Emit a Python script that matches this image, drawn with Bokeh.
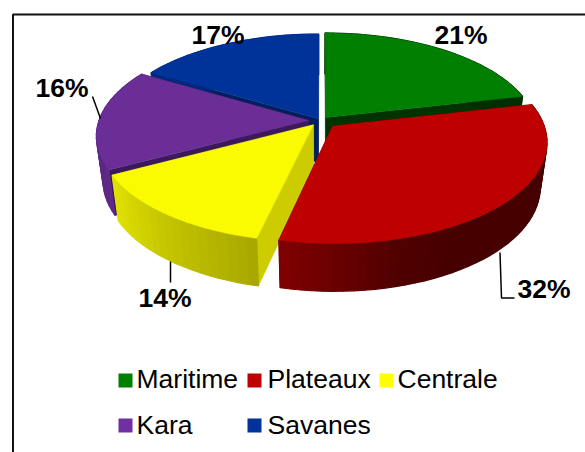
import numpy as np
from bokeh.plotting import figure
from bokeh.models import ColumnDataSource, Range1d
from bokeh.core.properties import value
from bokeh.embed import file_html
from bokeh.resources import INLINE

categories = ["Maritime", "Plateaux", "Centrale", "Kara", "Savanes"]
values = [21.4, 32.2, 13.6, 16.3, 16.5]
labels = ["21%", "32%", "14%", "16%", "17%"]

top_colors = ["#007F00", "#BF0000", "#FAFA00", "#6A2E96", "#003399"]
key_colors = ["#008000", "#C00000", "#FFFF00", "#7030A0", "#003399"]
wall_colors = ["#003300", "#470000", "#CCCC00", "#3A1A5C", "#001F5C"]
explode = [0.04, 0.08, 0.055, 0.055, 0.02]

CX, CY, RX, RY, K, DEPTH, TAPER = 320, 120, 210, 98, 0.15, 44, 0.03
FONT = "Liberation Sans"
FS = "26.5px"
W, H = 585, 452
TEXT_DY = -10


def project(t, em, ex, h):
    X = np.sin(t) + ex * np.sin(em)
    Z = np.cos(t) + ex * np.cos(em)
    s = 1 / (1 + K * Z)
    return (CX + RX * X * s * (1 - TAPER * h),
            CY - RY * Z * s + h * DEPTH / (1 + 0.5 * K * Z))


def apex(em, ex, h):
    X = ex * np.sin(em)
    Z = ex * np.cos(em)
    s = 1 / (1 + K * Z)
    return (CX + RX * X * s * (1 - TAPER * h),
            CY - RY * Z * s + h * DEPTH / (1 + 0.5 * K * Z))


def shade(hex_color, deg):
    f = np.interp(((deg % 360)), [100, 150, 165, 191, 241, 280, 320],
                  [0.37, 0.37, 0.42, 0.66, 0.90, 0.85, 0.8])
    rgb = [int(hex_color[i:i + 2], 16) for i in (1, 3, 5)]
    return "#%02x%02x%02x" % tuple(int(c * f) for c in rgb)


xs, ys, fills, widths = [], [], [], []


def add(px, py, color, lw):
    xs.append([float(v) for v in px])
    ys.append([float(v) for v in py])
    fills.append(color)
    widths.append(lw)


edges = np.radians(np.concatenate([[0], np.cumsum(values)]) * 3.6)
order = [4, 0, 3, 2, 1]
for i in order:
    a0, a1 = edges[i], edges[i + 1]
    em = (a0 + a1) / 2
    ex = explode[i]
    for a in (a0, a1):
        t_x, t_y = project(a, em, ex, 0)
        b_x, b_y = project(a, em, ex, 1)
        c_x, c_y = apex(em, ex, 0)
        d_x, d_y = apex(em, ex, 1)
        add([c_x, t_x, b_x, d_x], [c_y, t_y, b_y, d_y], wall_colors[i], 0.4)
    n = max(int(np.degrees(a1 - a0) / 2.5), 2)
    grid = np.linspace(a0, a1, n + 1)
    for g0, g1 in zip(grid[:-1], grid[1:]):
        p0 = project(g0, em, ex, 0)
        p1 = project(g1, em, ex, 0)
        q1 = project(g1, em, ex, 1)
        q0 = project(g0, em, ex, 1)
        add([p0[0], p1[0], q1[0], q0[0]], [p0[1], p1[1], q1[1], q0[1]],
            shade(top_colors[i], np.degrees((g0 + g1) / 2)), 1.2)
    arc = np.linspace(a0, a1, 90)
    ax, ay = project(arc, em, ex, 0)
    c_x, c_y = apex(em, ex, 0)
    add(np.r_[c_x, ax], np.r_[c_y, ay], top_colors[i], 0.4)

p = figure(width=W, height=H, output_backend="svg", toolbar_location=None,
           x_range=Range1d(0, W), y_range=Range1d(H, 0),
           x_axis_location=None, y_axis_location=None,
           min_border=0, outline_line_color=None, background_fill_color="white")
p.grid.visible = False

# chart frame
p.line([12.5, 12.5, W], [H, 14, 14], line_color="#111111", line_width=2)

src = ColumnDataSource(dict(xs=xs, ys=ys, fill=fills, lw=widths))
p.patches("xs", "ys", source=src, fill_color="fill", line_color="fill", line_width="lw")

# leader lines
for lx, ly in [([92, 100], [96, 118]), ([170, 170], [261, 282]), ([499.5, 501, 514], [252, 297.5, 297.5])]:
    p.line(lx, ly, line_color="black", line_width=1.5)

# data labels
lab_x = [434, 517, 138, 35, 191]
lab_y = [44 + TEXT_DY, 298 + TEXT_DY, 307 + TEXT_DY, 97 + TEXT_DY, 44 + TEXT_DY]
p.text(lab_x, lab_y, text=labels, text_font=value(FONT), text_font_style="bold",
       text_font_size=value(FS), text_color="black", text_baseline="alphabetic", text_align="left")

# legend
key_x = [125, 254, 386, 125, 254]
key_y = [380, 380, 380, 425, 425]
key_tx = [136, 267, 397, 136, 267]
key_ty = [388 + TEXT_DY, 388 + TEXT_DY, 388 + TEXT_DY, 434 + TEXT_DY, 434 + TEXT_DY]
p.rect(key_x, key_y, width=14, height=14, width_units="screen", height_units="screen",
       fill_color=key_colors, line_color=None)
p.text(key_tx, key_ty, text=categories, text_font=value(FONT), text_font_size=value(FS),
       text_color="black", text_baseline="alphabetic", text_align="left")

open("out.html", "w").write(file_html(p, INLINE))
